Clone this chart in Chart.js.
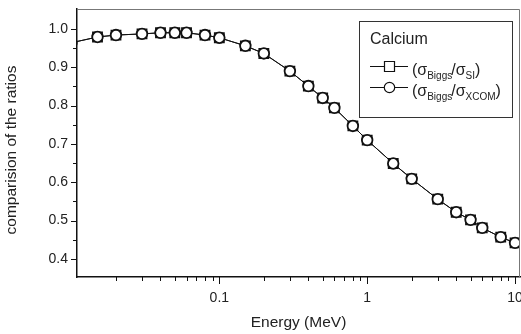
<!DOCTYPE html>
<html>
<head>
<meta charset="utf-8">
<script src="https://cdn.jsdelivr.net/npm/chart.js@4/dist/chart.umd.min.js"></script>
<style>
  body { margin: 0; background: #fff; }
  #wrap { width: 521px; height: 334px; }
</style>
</head>
<body>
<div id="wrap"><canvas id="chart" width="521" height="334"></canvas></div>
<script>
// photon energy (MeV)
const energies = [0.01, 0.015, 0.02, 0.03, 0.04, 0.05, 0.06, 0.08, 0.1, 0.15, 0.2, 0.3, 0.4, 0.5, 0.6, 0.8,
	1, 1.5, 2, 3, 4, 5, 6, 8, 10];
// sigma Biggs / sigma SI
const ratioSI = [0.964, 0.979, 0.984, 0.987, 0.990, 0.990, 0.990, 0.984, 0.977, 0.956, 0.936, 0.890, 0.851,
	0.820, 0.794, 0.747, 0.710, 0.649, 0.609, 0.556, 0.522, 0.502, 0.481, 0.457, 0.442];
// sigma Biggs / sigma XCOM
const ratioXCOM = [0.964, 0.979, 0.984, 0.987, 0.990, 0.990, 0.990, 0.984, 0.977, 0.956, 0.936, 0.890, 0.851,
	0.820, 0.794, 0.747, 0.710, 0.649, 0.609, 0.556, 0.522, 0.502, 0.481, 0.457, 0.442];

const xMajor = [0.1, 1, 10];
const xMinor = [0.02, 0.03, 0.04, 0.05, 0.06, 0.07, 0.08, 0.09, 0.2, 0.3, 0.4, 0.5, 0.6, 0.7, 0.8, 0.9,
	2, 3, 4, 5, 6, 7, 8, 9];
const yMajor = [0.4, 0.5, 0.6, 0.7, 0.8, 0.9, 1.0];
const yMinor = [0.45, 0.55, 0.65, 0.75, 0.85, 0.95];

const FONT = "'Liberation Sans', Arial, sans-serif";
const INK = "#222";

// ticks, frame, y title and legend box
const decor = {
	id: "decor",
	afterDraw(chart) {
		const ctx = chart.ctx;
		const x = chart.scales.x, y = chart.scales.y;
		const a = chart.chartArea;
		ctx.save();
		// top / right frame
		ctx.strokeStyle = "#777";
		ctx.lineWidth = 1;
		ctx.beginPath();
		ctx.moveTo(a.left, a.top + 0.5);
		ctx.lineTo(a.right - 0.5, a.top + 0.5);
		ctx.lineTo(a.right - 0.5, a.bottom);
		ctx.stroke();

		ctx.strokeStyle = "#111";
		ctx.lineWidth = 1;
		ctx.beginPath();
		xMajor.forEach((v) => {
			const p = Math.round(x.getPixelForValue(v)) + 0.5;
			ctx.moveTo(p, a.bottom); ctx.lineTo(p, a.bottom + 7);
		});
		xMinor.forEach((v) => {
			const p = Math.round(x.getPixelForValue(v)) + 0.5;
			ctx.moveTo(p, a.bottom); ctx.lineTo(p, a.bottom + 4);
		});
		yMajor.forEach((v) => {
			const p = Math.round(y.getPixelForValue(v)) + 0.5;
			ctx.moveTo(a.left, p); ctx.lineTo(a.left - 6, p);
		});
		yMinor.forEach((v) => {
			const p = Math.round(y.getPixelForValue(v)) + 0.5;
			ctx.moveTo(a.left, p); ctx.lineTo(a.left - 4, p);
		});
		ctx.stroke();

		// y axis title
		ctx.fillStyle = INK;
		ctx.font = "15.5px " + FONT;
		ctx.textAlign = "center";
		ctx.textBaseline = "middle";
		ctx.translate(12, 150);
		ctx.rotate(-Math.PI / 2);
		ctx.fillText("comparision of the ratios", 0, 0);
		ctx.restore();

		// legend
		ctx.save();
		ctx.fillStyle = "#fff";
		ctx.fillRect(359.5, 21.5, 153, 96);
		ctx.strokeStyle = "#333";
		ctx.lineWidth = 1;
		ctx.strokeRect(359.5, 21.5, 153, 96);
		ctx.fillStyle = INK;
		ctx.textAlign = "left";
		ctx.textBaseline = "alphabetic";
		ctx.font = "16px " + FONT;
		ctx.fillText("Calcium", 370, 44);

		const rows = [
			{ cy: 66.5, base: 75, style: "rect", sub2: "SI" },
			{ cy: 87.5, base: 96, style: "circle", sub2: "XCOM" },
		];
		rows.forEach((r) => {
			ctx.strokeStyle = "#111";
			ctx.lineWidth = 1;
			ctx.beginPath();
			ctx.moveTo(370, r.cy); ctx.lineTo(408, r.cy);
			ctx.stroke();
			ctx.fillStyle = "#fff";
			ctx.lineWidth = 1.2;
			ctx.beginPath();
			if (r.style === "rect") ctx.rect(384.5, r.cy - 5, 10, 10);
			else ctx.arc(389.5, r.cy, 5.2, 0, Math.PI * 2);
			ctx.fill(); ctx.stroke();

			ctx.fillStyle = INK;
			let cx = 412;
			const put = (t, size, dy) => {
				ctx.font = size + "px " + FONT;
				ctx.fillText(t, cx, r.base + dy);
				cx += ctx.measureText(t).width;
			};
			put("(", 16, 0);
			put("σ", 16, 0);
			put("Biggs", 10, 4);
			cx -= 1;
			put("/", 16, 0);
			put("σ", 16, 0);
			put(r.sub2, 10, 4);
			put(")", 16, 0);
		});
		ctx.restore();
	},
};

new Chart(document.getElementById("chart"), {
	type: "line",
	data: {
		labels: energies,
		datasets: [
			{
				label: "(σBiggs/σSI)",
				data: energies.map((e, i) => ({ x: e, y: ratioSI[i] })),
				order: 2,
				borderColor: "#111",
				borderWidth: 1,
				pointStyle: "rect",
				pointRadius: 6.4,
				pointBorderWidth: 1.8,
				pointBackgroundColor: "#fff",
				pointBorderColor: "#111",
				tension: 0,
			},
			{
				label: "(σBiggs/σXCOM)",
				data: energies.map((e, i) => ({ x: e, y: ratioXCOM[i] })),
				order: 1,
				borderColor: "#111",
				borderWidth: 1,
				pointStyle: "circle",
				pointRadius: 5.3,
				pointBorderWidth: 1.8,
				pointBackgroundColor: "#fff",
				pointBorderColor: "#111",
				tension: 0,
			},
		],
	},
	options: {
		responsive: false,
		animation: false,
		layout: { autoPadding: false, padding: { top: 9, right: 1, left: 0, bottom: 0 } },
		plugins: {
			legend: { display: false },
			tooltip: { enabled: false },
		},
		scales: {
			x: {
				type: "logarithmic",
				min: 0.0109,
				max: 10.8,
				afterBuildTicks: (s) => { s.ticks = xMajor.map((v) => ({ value: v })); },
				afterFit: (s) => { s.height = 57; s.paddingLeft = 0; s.paddingRight = 0; },
				grid: { display: false, drawTicks: false },
				border: { display: true, color: "#111", width: 1.5 },
				ticks: {
					autoSkip: false,
					maxRotation: 0,
					padding: 13,
					color: INK,
					font: { family: FONT, size: 14 },
					callback: (v) => String(v),
				},
				title: {
					display: true,
					text: "Energy (MeV)",
					color: INK,
					font: { family: FONT, size: 15.5 },
					padding: { top: 0, bottom: 2 },
				},
			},
			y: {
				min: 0.353,
				max: 1.052,
				afterBuildTicks: (s) => { s.ticks = yMajor.map((v) => ({ value: v })); },
				afterFit: (s) => { s.width = 77; s.paddingTop = 0; s.paddingBottom = 0; },
				grid: { display: false, drawTicks: false },
				border: { display: true, color: "#111", width: 1.5 },
				ticks: {
					autoSkip: false,
					padding: 9,
					color: INK,
					font: { family: FONT, size: 14 },
					callback: (v) => v.toFixed(1),
				},
			},
		},
	},
	plugins: [decor],
});
</script>
</body>
</html>
